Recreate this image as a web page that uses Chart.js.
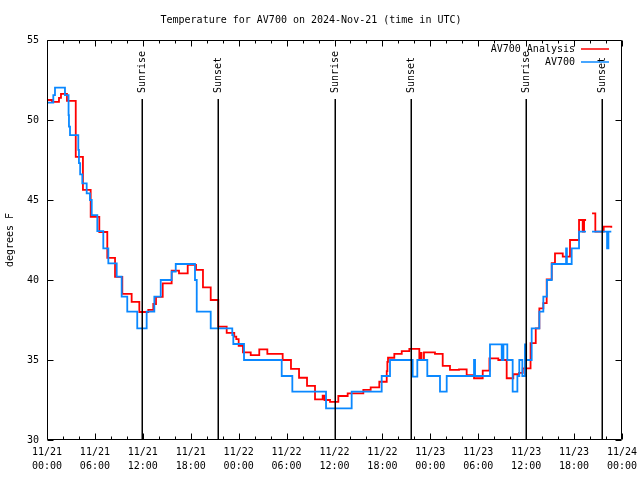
<!DOCTYPE html>
<html>
<head>
<meta charset="utf-8">
<script src="https://cdn.jsdelivr.net/npm/chart.js@4"></script>
<style>
  html, body { margin: 0; padding: 0; background: #fff; }
</style>
</head>
<body>
<canvas id="tempChart" width="640" height="480"></canvas>
<script>
// hours since 11/21 00:00 UTC, temperature in degrees F (null = data gap)
const analysisHours = [0, 0.63, 1.5, 1.75, 2.5, 3.6, 4.5, 5.47, 6.55, 7.55, 8.52, 9.43, 10.6, 11.56, 12.68, 13.31, 13.65, 14.49, 15.61, 16.53,
  17.62, 18.66, 19.53, 20.5, 21.45, 22.5, 23.45, 23.7, 24.0, 24.54, 25.51, 26.58, 27.59, 29.51, 30.55, 31.56, 32.56, 33.56, 34.52, 34.75,
  35.44, 36.48, 37.65, 39.61, 40.53, 41.61, 42.54, 42.62, 42.7, 43.49, 44.42, 45.37, 46.62, 46.71, 46.9, 47.2, 48.58, 49.55, 50.46, 51.59,
  52.55, 53.47, 54.56, 55.4, 56.51, 57.56, 58.39, 59.1, 59.57, 60.55, 61.2, 61.65, 62.15, 62.57, 63.2, 63.61, 64.58, 65.49, 66.62, 67.08,
  67.25, 67.5, 67.6, 68.25, 68.66, 69.71, 70.66];
const analysisTemps = [51.25, 51.13, 51.38, 51.63, 51.19, 47.69, 45.63, 43.94, 43.0, 41.38, 40.19, 39.13, 38.63, 38.0, 38.13, 38.5, 38.94, 39.79, 40.58, 40.42,
  40.94, 40.63, 39.54, 38.75, 37.08, 36.7, 36.46, 36.31, 35.88, 35.48, 35.31, 35.67, 35.38, 35.0, 34.44, 33.89, 33.38, 32.54, 32.77, 32.5,
  32.38, 32.75, 32.92, 33.13, 33.29, 33.64, 34.31, 34.88, 35.14, 35.38, 35.56, 35.69, 35.0, 35.44, 35.0, 35.48, 35.38, 34.63, 34.38, 34.42,
  34.06, 33.86, 34.33, 35.1, 35.0, 33.86, 34.11, 34.2, 34.48, 36.05, 36.98, 38.23, 38.56, 40.04, 41.06, 41.67, 41.46, 42.5, 43.75, 43.02,
  43.75, 43.75, null, 44.17, 43.02, 43.33, 43.27];

const av700Hours = [0, 0.79, 1.0, 2.25, 2.7, 2.75, 2.88, 3.92, 4.0, 4.15, 4.42, 4.97, 5.38, 5.6, 6.3, 7.05, 7.68, 8.73, 9.35, 10.05,
  11.3, 12.48, 13.44, 14.24, 15.61, 16.12, 18.53, 18.75, 20.5, 23.2, 23.33, 24.67, 29.39, 30.72, 34.94, 38.15, 41.91, 42.95, 45.79, 46.37,
  47.62, 49.21, 50.05, 53.47, 53.6, 55.47, 56.94, 57.15, 57.64, 58.31, 58.9, 59.14, 59.52, 59.85, 60.0, 60.69, 61.65, 62.15, 62.6, 63.2,
  65.0, 65.1, 65.7, 66.62, 67.49, 67.6, 68.25, 70.13, 70.3, 70.66];
const av700Temps = [51.08, 51.56, 52.02, 51.56, 50.3, 49.58, 49.06, 48.13, 47.3, 46.6, 46.04, 45.42, 45.0, 44.06, 43.06, 41.98, 41.04, 40.21, 38.96, 38.02,
  36.98, 38.02, 38.96, 40.0, 40.52, 41.0, 40.0, 38.02, 36.98, 36.56, 36.0, 35.0, 34.0, 33.02, 31.98, 33.02, 34.0, 35.0, 33.96, 35.0,
  34.0, 33.02, 34.0, 35.0, 34.0, 35.98, 35.0, 35.98, 35.0, 33.02, 34.0, 35.0, 34.0, 35.98, 35.0, 36.98, 38.02, 38.96, 40.0, 41.0,
  41.98, 41.0, 41.98, 43.02, 43.02, null, 43.02, 41.98, 43.02, 43.02];

const tickDays = ['11/21', '11/21', '11/21', '11/21', '11/22', '11/22', '11/22', '11/22', '11/23', '11/23', '11/23', '11/23', '11/24'];
const tickTimes = ['00:00', '06:00', '12:00', '18:00', '00:00', '06:00', '12:00', '18:00', '00:00', '06:00', '12:00', '18:00', '00:00'];

const eventHours = [11.93, 21.45, 36.0, 45.54, 60.02, 69.53];
const eventLabels = ['Sunrise', 'Sunset', 'Sunrise', 'Sunset', 'Sunrise', 'Sunset'];

const FONT = "'DejaVu Sans Mono', 'Liberation Mono', monospace";

function toPoints(hours, temps) {
    return hours.map((h, i) => ({ x: h, y: temps[i] }));
}

// gnuplot-ish frame: box, inward ticks, sunrise/sunset markers, legend
const gnuplotFrame = {
    id: 'gnuplotFrame',
    afterDatasetsDraw(chart) {
        const { ctx, chartArea: a, scales: { x } } = chart;
        ctx.save();
        ctx.strokeStyle = '#000';
        ctx.lineWidth = 1.5;
        ctx.fillStyle = '#000';
        ctx.font = '10px ' + FONT;
        eventHours.forEach((h, i) => {
            const px = Math.round(x.getPixelForValue(h)) + 0.25;
            ctx.beginPath();
            ctx.moveTo(px, a.top + 59);
            ctx.lineTo(px, a.bottom);
            ctx.stroke();
            ctx.save();
            ctx.translate(px, a.top + 53);
            ctx.rotate(-Math.PI / 2);
            ctx.textAlign = 'left';
            ctx.textBaseline = 'middle';
            ctx.fillText(eventLabels[i], 0, 0);
            ctx.restore();
        });
        ctx.restore();
    },
    afterDraw(chart) {
        const { ctx, chartArea: a, scales: { x, y } } = chart;
        const l = a.left + 0.5, r = a.right - 0.5, t = a.top + 0.5, b = a.bottom - 0.5;
        ctx.save();
        ctx.strokeStyle = '#000';
        ctx.lineWidth = 1;
        ctx.beginPath();
        ctx.moveTo(l, t);
        ctx.lineTo(r, t);
        ctx.lineTo(r, b);
        ctx.lineTo(l, b);
        ctx.closePath();

        for (let h = 0; h <= 72; h += 2) {
            const px = Math.round(x.getPixelForValue(h)) + 0.5;
            const len = h % 6 === 0 ? 6 : 3;
            ctx.moveTo(px, b);
            ctx.lineTo(px, b - len);
            ctx.moveTo(px, t);
            ctx.lineTo(px, t + len);
        }
        for (let v = 30; v <= 55; v += 5) {
            const py = Math.round(y.getPixelForValue(v)) + 0.5;
            ctx.moveTo(l, py);
            ctx.lineTo(l + 6, py);
            ctx.moveTo(r, py);
            ctx.lineTo(r - 6, py);
        }
        ctx.stroke();

        // legend, gnuplot style: label on the left, sample line on the right
        ctx.font = '10px ' + FONT;
        ctx.textAlign = 'right';
        ctx.textBaseline = 'middle';
        chart.data.datasets.forEach((ds, i) => {
            const ly = a.top + 9 + i * 13;
            ctx.fillStyle = '#000';
            ctx.fillText(ds.label, a.right - 47, ly);
            ctx.strokeStyle = ds.borderColor;
            ctx.lineWidth = 1.5;
            ctx.beginPath();
            ctx.moveTo(a.right - 41, ly);
            ctx.lineTo(a.right - 13, ly);
            ctx.stroke();
        });
        ctx.restore();
    }
};

new Chart(document.getElementById('tempChart'), {
    type: 'line',
    data: {
        datasets: [{
            label: 'AV700 Analysis',
            data: toPoints(analysisHours, analysisTemps),
            borderColor: '#ff0000',
            borderWidth: 1.8,
            stepped: 'before',
            pointRadius: 0,
            spanGaps: false,
            order: 1
        }, {
            label: 'AV700',
            data: toPoints(av700Hours, av700Temps),
            borderColor: '#0a88ff',
            borderWidth: 1.8,
            stepped: 'before',
            pointRadius: 0,
            spanGaps: false,
            order: 0
        }]
    },
    options: {
        responsive: false,
        animation: false,
        layout: { padding: { left: 0, right: 18, top: 0, bottom: 0 } },
        plugins: {
            legend: { display: false },
            tooltip: { enabled: false },
            title: {
                display: true,
                text: 'Temperature for AV700 on 2024-Nov-21 (time in UTC)',
                color: '#000',
                font: { family: FONT, size: 10, weight: 'normal', lineHeight: 1.2 },
                padding: { top: 14, bottom: 14 }
            }
        },
        scales: {
            x: {
                type: 'linear',
                min: 0,
                max: 72,
                grid: { display: false, drawTicks: false },
                border: { display: false },
                ticks: {
                    stepSize: 6,
                    autoSkip: false,
                    maxRotation: 0,
                    padding: 6,
                    color: '#000',
                    font: { family: FONT, size: 10, lineHeight: 1.35 },
                    callback: (value, index) => [tickDays[index], tickTimes[index]]
                },
                afterFit: (scale) => {
                    scale.height = 40;
                    scale.paddingLeft = 0;
                    scale.paddingRight = 0;
                }
            },
            y: {
                min: 30,
                max: 55,
                grid: { display: false, drawTicks: false },
                border: { display: false },
                ticks: {
                    stepSize: 5,
                    padding: 8,
                    color: '#000',
                    font: { family: FONT, size: 10 }
                },
                title: {
                    display: true,
                    text: 'degrees F',
                    color: '#000',
                    font: { family: FONT, size: 10, weight: 'normal' },
                    padding: { top: 4, bottom: 0 }
                },
                afterFit: (scale) => { scale.width = 47; }
            }
        }
    },
    plugins: [gnuplotFrame]
});
</script>
</body>
</html>
